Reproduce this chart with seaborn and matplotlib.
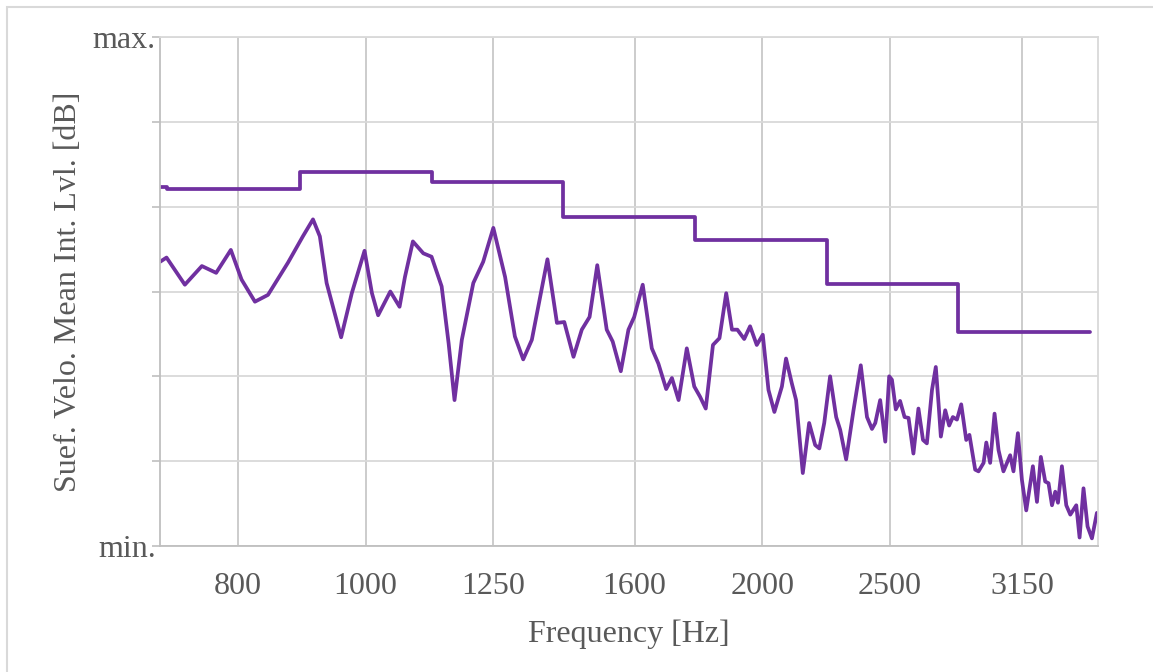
import numpy as np
import pandas as pd
import matplotlib
matplotlib.use("Agg")
import matplotlib.pyplot as plt
import seaborn as sns
from matplotlib.patches import Rectangle

# --- data ---
# spectrum (smooth curve), frequency in Hz and relative level in dB
freq = [698, 706, 729, 751, 770, 790, 805, 824, 843, 873, 896, 912, 923, 934, 958,
        976, 998, 1011, 1022, 1044, 1061, 1071, 1086, 1106, 1122, 1142, 1156, 1168,
        1183, 1207, 1228, 1250, 1276, 1298, 1317, 1337, 1374, 1397, 1415, 1438, 1459,
        1479, 1499, 1524, 1540, 1562, 1583, 1599, 1623, 1649, 1668, 1691, 1708, 1728,
        1753, 1776, 1794, 1812, 1835, 1856, 1878, 1897, 1915, 1938, 1958, 1981, 2002,
        2022, 2043, 2070, 2085, 2106, 2122, 2147, 2171, 2194, 2210, 2229, 2252, 2276,
        2292, 2316, 2346, 2376, 2402, 2423, 2437, 2458, 2480, 2497, 2509, 2526, 2545,
        2565, 2583, 2605, 2628, 2649, 2667, 2691, 2709, 2722, 2733, 2754, 2773, 2791,
        2811, 2832, 2857, 2873, 2902, 2919, 2945, 2959, 2979, 3002, 3023, 3049, 3085,
        3103, 3127, 3149, 3173, 3210, 3233, 3255, 3280, 3299, 3319, 3338, 3354, 3377,
        3403, 3427, 3463, 3483, 3507, 3532, 3559, 3590]
level = [33.5, 34.0, 30.8, 33.0, 32.2, 34.9, 31.4, 28.8, 29.6, 33.4, 36.5, 38.5, 36.5,
         31.0, 24.6, 29.8, 34.8, 29.8, 27.2, 30.0, 28.2, 31.7, 35.9, 34.5, 34.1, 30.6,
         23.9, 17.2, 24.3, 31.0, 33.5, 37.5, 31.7, 24.7, 22.0, 24.3, 33.8, 26.3, 26.4,
         22.3, 25.5, 27.0, 33.1, 25.5, 24.1, 20.6, 25.5, 27.0, 30.8, 23.3, 21.5, 18.5,
         19.8, 17.2, 23.3, 18.8, 17.6, 16.2, 23.7, 24.5, 29.8, 25.5, 25.5, 24.4, 25.9,
         23.7, 24.9, 18.4, 15.8, 18.8, 22.1, 19.2, 17.2, 8.6, 14.5, 11.9, 11.5, 14.5,
         20.0, 15.2, 13.7, 10.2, 16.0, 21.3, 15.2, 13.8, 14.5, 17.2, 12.3, 20.0, 19.6,
         16.1, 17.1, 15.2, 15.1, 10.9, 16.2, 12.5, 12.1, 18.4, 21.1, 16.8, 12.9, 16.0,
         14.2, 15.2, 14.9, 16.7, 12.5, 13.1, 9.0, 8.8, 9.8, 12.2, 9.8, 15.6, 11.3, 8.8,
         10.7, 8.8, 13.3, 7.8, 4.2, 9.4, 5.2, 10.5, 7.6, 7.4, 4.8, 6.4, 5.1, 9.4, 4.8,
         3.7, 4.8, 1.0, 6.8, 2.3, 0.9, 3.9]

# third-octave band levels (stepped line): band edges and level per band
band_edges = [698, 707, 891, 1122, 1413, 1778, 2239, 2818, 3548]
band_level = [42.3, 42.1, 44.1, 42.9, 38.8, 36.1, 30.9, 25.2, 25.2]

xticks = [800, 1000, 1250, 1600, 2000, 2500, 3150]
yticks = [0, 10, 20, 30, 40, 50, 60]
ylabels = ["min.", "", "", "", "", "", "max."]

purple = "#7030A0"
text_col = "#595959"

sns.set_theme(style="white")
plt.rcParams["font.family"] = ["Liberation Serif", "DejaVu Serif"]

fig = plt.figure(figsize=(11.53, 6.72), dpi=100)
ax = fig.add_axes([160 / 1153, 1 - 546 / 672, (1098 - 160) / 1153, (546 - 37) / 672])

# outer chart-area border (clipped at right / bottom like the original)
fig.patches.append(Rectangle((7 / 1153, -0.05), 1.1, 1 - 7 / 672 + 0.05,
                             transform=fig.transFigure, fill=False,
                             edgecolor="#d9d9d9", linewidth=1.5, zorder=0))

spec = pd.DataFrame({"freq": freq, "level": level})
bands = pd.DataFrame({"freq": band_edges, "level": band_level})

sns.lineplot(data=bands, x="freq", y="level", ax=ax, color=purple, linewidth=2.7,
             drawstyle="steps-post", estimator=None, sort=False)
sns.lineplot(data=spec, x="freq", y="level", ax=ax, color=purple, linewidth=2.7,
             estimator=None, sort=False, solid_joinstyle="round")

ax.set_xscale("log")
ax.set_xlim(698, 3597)
ax.set_ylim(0, 60)
ax.set_xticks(xticks)
ax.set_xticklabels([str(t) for t in xticks])
ax.minorticks_off()
ax.set_yticks(yticks)
ax.set_yticklabels(ylabels)

ax.xaxis.grid(True, color="#c8c8c8", linewidth=1.3)
ax.yaxis.grid(True, color="#d9d9d9", linewidth=1.3)
ax.set_axisbelow(True)

for side in ["left", "bottom"]:
    ax.spines[side].set_color("#bfbfbf")
    ax.spines[side].set_linewidth(1.3)
for side in ["top", "right"]:
    ax.spines[side].set_color("#d9d9d9")
    ax.spines[side].set_linewidth(1.3)

ax.tick_params(axis="x", length=0, pad=19, labelsize=23, labelcolor=text_col)
ax.tick_params(axis="y", left=True, length=6, width=1.2, color="#bfbfbf", pad=-3,
               labelsize=23, labelcolor=text_col)

ax.set_xlabel("Frequency [Hz]", fontsize=23, color=text_col, labelpad=13)
ax.set_ylabel("Suef. Velo. Mean Int. Lvl. [dB]", fontsize=23, color=text_col, labelpad=7)

fig.savefig("out.png", dpi=100)
